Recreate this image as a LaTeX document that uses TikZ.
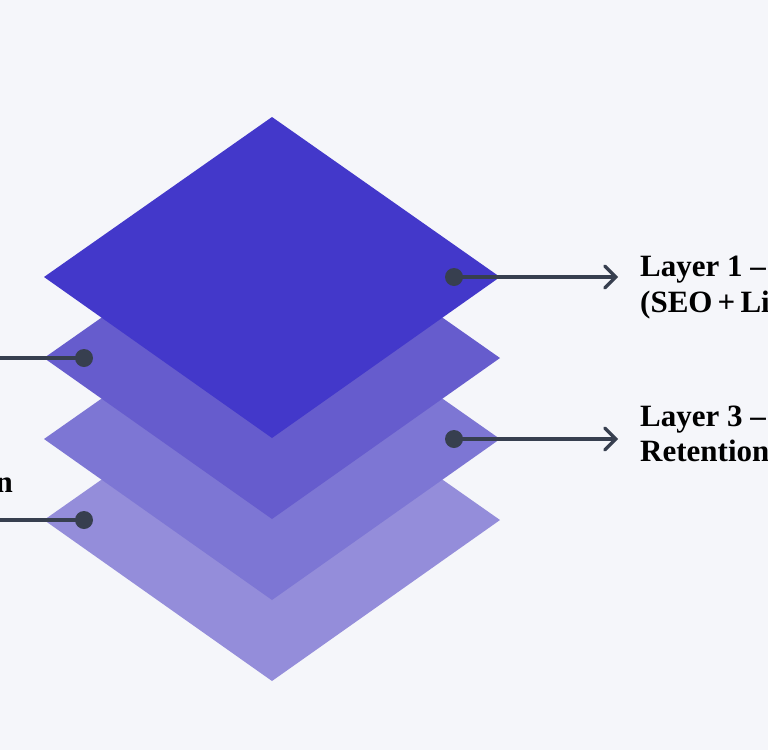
\documentclass[tikz,border=0pt]{standalone}
\usepackage{fontspec}
\setmainfont{Liberation Serif}
\usetikzlibrary{arrows.meta}
\definecolor{bgc}{HTML}{F5F6FA}
\definecolor{lay1}{HTML}{4338CA}
\definecolor{lay2}{HTML}{665CCD}
\definecolor{lay3}{HTML}{7D76D4}
\definecolor{lay4}{HTML}{948DDA}
\definecolor{ink}{HTML}{373F4F}
\tikzset{
  layer/.style={fill=#1, draw=none},
  conn/.style={draw=ink, line width=3.2pt},
  dotc/.style={circle, fill=ink, inner sep=0pt, minimum size=18pt},
  lbl/.style={font=\bfseries\fontsize{31}{36}\selectfont, text=black, inner sep=0pt},
}
\begin{document}
\begin{tikzpicture}[x=1pt,y=-1pt]
\fill[bgc] (0,0) rectangle (768,750);
\useasboundingbox (0,0) rectangle (768,750);
% layers, bottom first
\foreach \c/\dy in {lay4/243, lay3/162, lay2/81, lay1/0} {
  \fill[layer=\c] (272,117+\dy) -- (500,277+\dy) -- (272,438+\dy) -- (44,277+\dy) -- cycle;
}
% connector ends
\node[dotc] (d1) at (454,277) {};
\node[dotc] (d3) at (454,439) {};
\node[dotc] (d2) at (84,358) {};
\node[dotc] (d4) at (84,520) {};
\coordinate (t1) at (618,277);
\coordinate (t3) at (618,439);
\coordinate (e2) at (-5,358);
\coordinate (e4) at (-5,520);
\draw[conn, -{Straight Barb[length=11pt,width=22pt,line cap=round]}] (d1.center) -- (t1);
\draw[conn, -{Straight Barb[length=11pt,width=22pt,line cap=round]}] (d3.center) -- (t3);
\draw[conn] (d2.center) -- (e2);
\draw[conn] (d4.center) -- (e4);
% labels
\node[lbl, anchor=base west] (l1a) at (640,276) {Layer 1 –};
\node[lbl, anchor=base west] (l1b) at (640,312) {(SEO\,+\,Li};
\node[lbl, anchor=base west] (l3a) at (640,426) {Layer 3 –};
\node[lbl, anchor=base west] (l3b) at (640,461) {Retention};
\node[lbl, anchor=base east] (l4a) at (13,492) {n};
\end{tikzpicture}
\end{document}
